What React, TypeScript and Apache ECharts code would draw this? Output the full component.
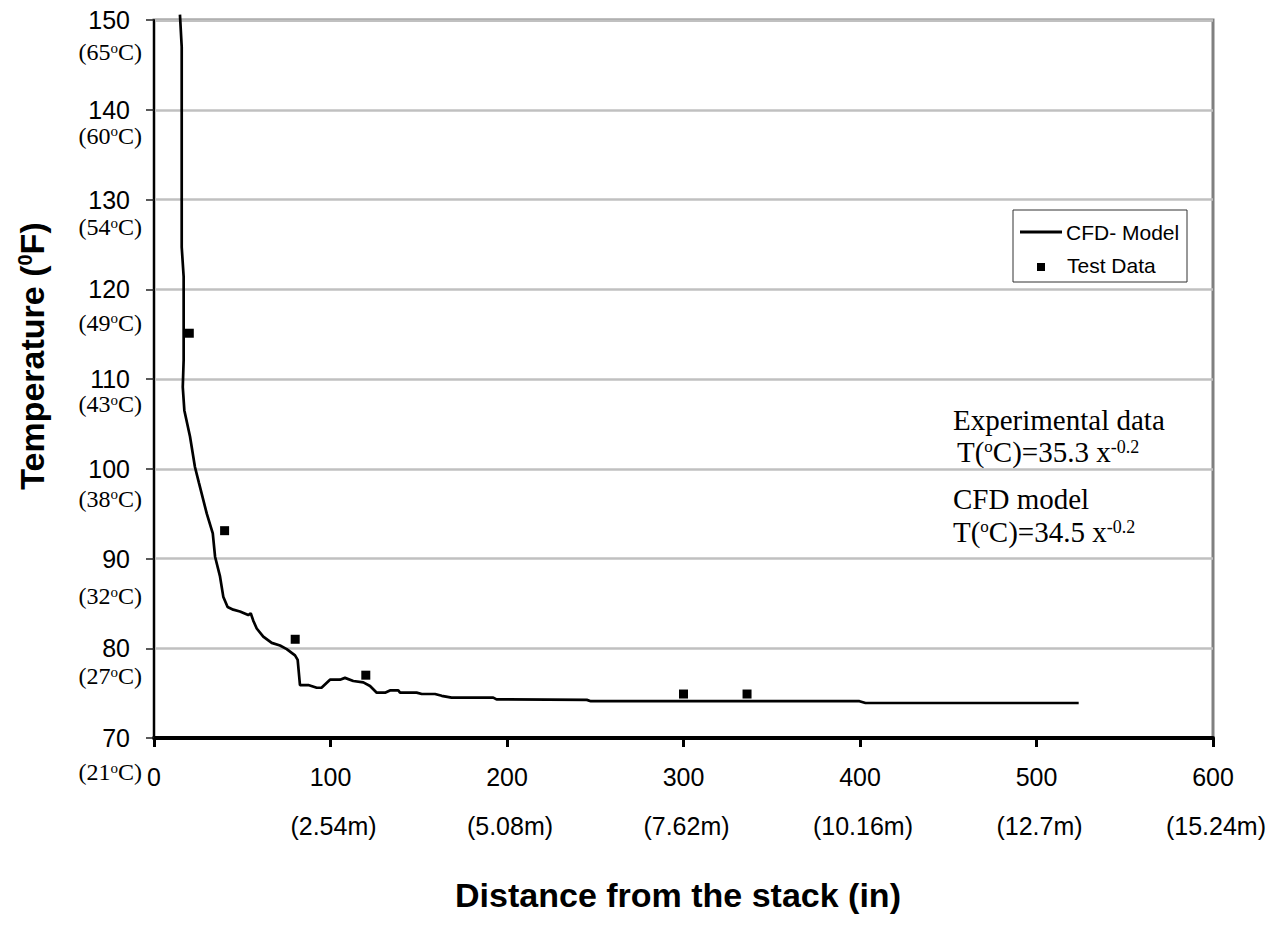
import React, { useEffect, useRef } from 'react';
import * as echarts from 'echarts';

// ---- data ----
const xTicks = [0, 100, 200, 300, 400, 500, 600];
const meterLabels = ['', '(2.54m)', '(5.08m)', '(7.62m)', '(10.16m)', '(12.7m)', '(15.24m)'];
const yTicks = [150, 140, 130, 120, 110, 100, 90, 80, 70];
const celsiusLabels = ['65', '60', '54', '49', '43', '38', '32', '27', '21'];

const cfdX = [14.7, 15.7, 15.7, 16.8, 16.8, 16.3, 17.2, 20.4, 23.2, 25.5, 29.9, 33.3, 34.6, 37.4, 39.3, 41.7, 44.9, 48.7, 53.4, 54.8, 56.2, 58.2, 61.9, 66.7, 71.4, 75.2, 79.9, 81.4, 82.7, 87.4, 92.2, 94.9, 99.7, 105.4, 108.2, 112.9, 118.6, 122.4, 126.2, 130.9, 133.7, 138.4, 139.4, 148.8, 151.7, 159.2, 163.0, 168.6, 192.2, 194.1, 245.2, 247.5, 399.7, 403.1, 523.9];
const cfdY = [150.6, 147.0, 124.7, 121.4, 112.1, 109.1, 106.5, 103.6, 100.2, 98.4, 95.0, 92.8, 90.2, 88.0, 85.7, 84.6, 84.3, 84.1, 83.7, 83.9, 83.1, 82.2, 81.3, 80.6, 80.3, 79.9, 79.2, 78.7, 75.9, 75.9, 75.6, 75.6, 76.5, 76.5, 76.7, 76.35, 76.2, 75.8, 75.05, 75.05, 75.3, 75.3, 75.05, 75.05, 74.9, 74.9, 74.7, 74.5, 74.5, 74.3, 74.25, 74.1, 74.1, 73.9, 73.9];

const testX = [20, 40, 80, 120, 300, 336];
const testY = [115.1, 93.1, 81.0, 77.0, 74.9, 74.9];

const seriesNames = ['CFD- Model', 'Test Data'];
const noteLines = ['Experimental data', 'T(', 'C)=35.3 x', '-0.2', 'CFD model', 'C)=34.5 x'];

// ---- layout (pixel offsets of the Celsius captions below each tick) ----
const celsiusOffsetPx = [32, 26, 27.5, 33.5, 25, 30, 37.5, 28, 34];

const SANS = 'Liberation Sans, Arial, sans-serif';
const SERIF = 'Liberation Serif, Times New Roman, serif';

export default function App() {
  const ref = useRef<HTMLDivElement>(null);

  useEffect(() => {
    if (!ref.current) return;
    const chart = echarts.init(ref.current, undefined, { renderer: 'svg' });

    const meterOf = (v: number) => meterLabels[xTicks.indexOf(v)] ?? '';

    chart.setOption({
      animation: false,
      backgroundColor: '#ffffff',
      grid: {
        left: 154, right: 59, top: 20, bottom: 187,
        show: true, borderColor: '#808080', borderWidth: 3, backgroundColor: 'transparent',
      },
      xAxis: {
        type: 'value', min: 0, max: 600, interval: 100,
        axisLine: { show: true, lineStyle: { color: '#000', width: 4 } },
        axisTick: { show: true, inside: false, length: 9, lineStyle: { color: '#000', width: 3 } },
        splitLine: { show: false },
        axisLabel: {
          margin: 25, color: '#000',
          formatter: (v: number) => `{n|${v}}\n{m|${meterOf(v)}}`,
          rich: {
            n: { fontFamily: SANS, fontSize: 25, lineHeight: 28, color: '#000' },
            m: { fontFamily: SANS, fontSize: 25, lineHeight: 70, color: '#000', padding: [0, 0, 0, 6] },
          },
        },
      },
      yAxis: {
        type: 'value', min: 70, max: 150, interval: 10,
        axisLine: { show: true, lineStyle: { color: '#000', width: 2 } },
        axisTick: { show: true, inside: false, length: 8, lineStyle: { color: '#222', width: 1.5 } },
        splitLine: { show: true, lineStyle: { color: '#c0c0c0', width: 2.5 } },
        axisLabel: { margin: 24, fontFamily: SANS, fontSize: 25, color: '#000' },
      },
      series: [
        {
          name: seriesNames[0], type: 'line', showSymbol: false, symbol: 'none', clip: false,
          lineStyle: { color: '#000', width: 2.7 },
          data: cfdX.map((x, i) => [x, cfdY[i]]),
          z: 3,
        },
        {
          name: seriesNames[1], type: 'scatter', symbol: 'rect', symbolSize: 9,
          itemStyle: { color: '#000', opacity: 1 },
          data: testX.map((x, i) => [x, testY[i]]),
          z: 4,
        },
      ],
    });

    const graphics: any[] = [];
    // Celsius captions under y ticks
    yTicks.forEach((t, i) => {
      const p = chart.convertToPixel({ gridIndex: 0 }, [0, t]) as number[];
      graphics.push({
        type: 'text', x: 142, y: p[1] + celsiusOffsetPx[i],
        style: {
          text: `{a|(${celsiusLabels[i]}}{s|o}{a|C)}`,
          align: 'right', verticalAlign: 'middle',
          rich: {
            a: { fontFamily: SERIF, fontSize: 24, fill: '#000', color: '#000' },
            s: { fontFamily: SERIF, fontSize: 15, verticalAlign: 'top', fill: '#000', color: '#000' },
          },
        },
      });
    });

    // axis titles
    graphics.push({
      type: 'text', x: 678, y: 895,
      style: {
        text: 'Distance from the stack (in)', fontFamily: SANS, fontWeight: 'bold', fontSize: 34,
        fill: '#000', align: 'center', verticalAlign: 'middle',
      },
    });
    graphics.push({
      type: 'text', x: 32, y: 356, rotation: Math.PI / 2,
      style: {
        text: '{a|Temperature (}{s|0}{a|F)}', align: 'center', verticalAlign: 'middle',
        rich: {
          a: { fontFamily: SANS, fontWeight: 'bold', fontSize: 34, fill: '#000', color: '#000' },
          s: { fontFamily: SANS, fontWeight: 'bold', fontSize: 20, verticalAlign: 'top', fill: '#000', color: '#000' },
        },
      },
    });

    // legend
    graphics.push({
      type: 'group', children: [
        { type: 'rect', shape: { x: 1013, y: 210, width: 174, height: 72 }, style: { fill: '#fff', stroke: '#333', lineWidth: 1 } },
        { type: 'line', shape: { x1: 1020, y1: 232, x2: 1062, y2: 232 }, style: { stroke: '#000', lineWidth: 3 } },
        { type: 'text', x: 1066, y: 232, style: { text: seriesNames[0], fontFamily: SANS, fontSize: 21, fill: '#000', verticalAlign: 'middle' } },
        { type: 'rect', shape: { x: 1037, y: 263, width: 8, height: 8 }, style: { fill: '#000' } },
        { type: 'text', x: 1067, y: 265, style: { text: seriesNames[1], fontFamily: SANS, fontSize: 21, fill: '#000', verticalAlign: 'middle' } },
      ],
    });

    // equations note
    const noteRich = {
      a: { fontFamily: SERIF, fontSize: 29, fill: '#000', color: '#000' },
      o: { fontFamily: SERIF, fontSize: 17, verticalAlign: 'top', fill: '#000', color: '#000' },
      e: { fontFamily: SERIF, fontSize: 18, verticalAlign: 'top', fill: '#000', color: '#000' },
    };
    graphics.push({ type: 'text', x: 953, y: 420, style: { text: `{a|${noteLines[0]}}`, rich: noteRich, verticalAlign: 'middle' } });
    graphics.push({ type: 'text', x: 957, y: 452, style: { text: `{a|${noteLines[1]}}{o|o}{a|${noteLines[2]}}{e|${noteLines[3]}}`, rich: noteRich, verticalAlign: 'middle' } });
    graphics.push({ type: 'text', x: 953, y: 499, style: { text: `{a|${noteLines[4]}}`, rich: noteRich, verticalAlign: 'middle' } });
    graphics.push({ type: 'text', x: 953, y: 532, style: { text: `{a|${noteLines[1]}}{o|o}{a|${noteLines[5]}}{e|${noteLines[3]}}`, rich: noteRich, verticalAlign: 'middle' } });

    chart.setOption({ graphic: graphics });

    return () => chart.dispose();
  }, []);

  return (
    <div
      ref={ref}
      style={{ position: 'fixed', left: 0, top: 0, width: 1272, height: 925, background: '#fff' }}
    />
  );
}
